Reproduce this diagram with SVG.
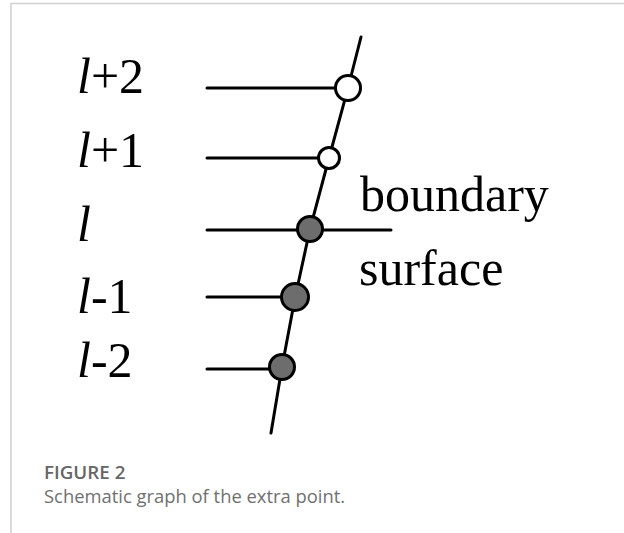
<svg xmlns="http://www.w3.org/2000/svg" width="624" height="533" viewBox="0 0 624 533">
<style>
.frame{fill:none;stroke:#cfcfcf;stroke-width:1.5}
.ln{stroke:#000;stroke-width:3;fill:none;stroke-linecap:round}
.open{fill:#fff;stroke:#000;stroke-width:3}
.filled{fill:#6d6d6d;stroke:#000;stroke-width:3}
.lab{font-family:"Liberation Serif","Times New Roman",serif;font-size:50px;fill:#000}
.it{font-style:italic}
.cap1{font-family:"Open Sans","Noto Sans",sans-serif;font-weight:600;font-size:18.8px;fill:#666}
.cap2{font-family:"Open Sans","Noto Sans",sans-serif;font-size:18.4px;fill:#707070}
</style>
<rect class="frame" x="11" y="3.5" width="640" height="560"/>
<g id="connectors">
<polyline class="ln" points="361,37 348,88 329,158 310,229 295,298 282,367 271,433"/>
<line class="ln" x1="207" y1="88" x2="340" y2="88"/>
<line class="ln" x1="207" y1="158" x2="322" y2="158"/>
<line class="ln" x1="207" y1="230" x2="391" y2="230"/>
<line class="ln" x1="207" y1="297" x2="285" y2="297"/>
<line class="ln" x1="207" y1="369" x2="272" y2="369"/>
</g>
<g id="n_lp2"><circle class="open" cx="348" cy="88" r="12.5"/><text class="lab" x="77" y="93"><tspan class="it">l</tspan>+2</text></g>
<g id="n_lp1"><circle class="open" cx="329" cy="158" r="10.5"/><text class="lab" x="77" y="167"><tspan class="it">l</tspan>+1</text></g>
<g id="n_l"><circle class="filled" cx="310" cy="229" r="12.5"/><text class="lab" x="77" y="241"><tspan class="it">l</tspan></text></g>
<g id="n_lm1"><circle class="filled" cx="295" cy="297" r="13.5"/><text class="lab" x="77" y="313"><tspan class="it">l</tspan>-1</text></g>
<g id="n_lm2"><circle class="filled" cx="282" cy="367" r="12.5"/><text class="lab" x="77" y="377"><tspan class="it">l</tspan>-2</text></g>
<g id="boundary"><text class="lab" x="360" y="211">boundary</text><text class="lab" x="359" y="285">surface</text></g>
<text class="cap1" x="44" y="479">FIGURE 2</text>
<text class="cap2" x="44" y="503">Schematic graph of the extra point.</text>
</svg>
